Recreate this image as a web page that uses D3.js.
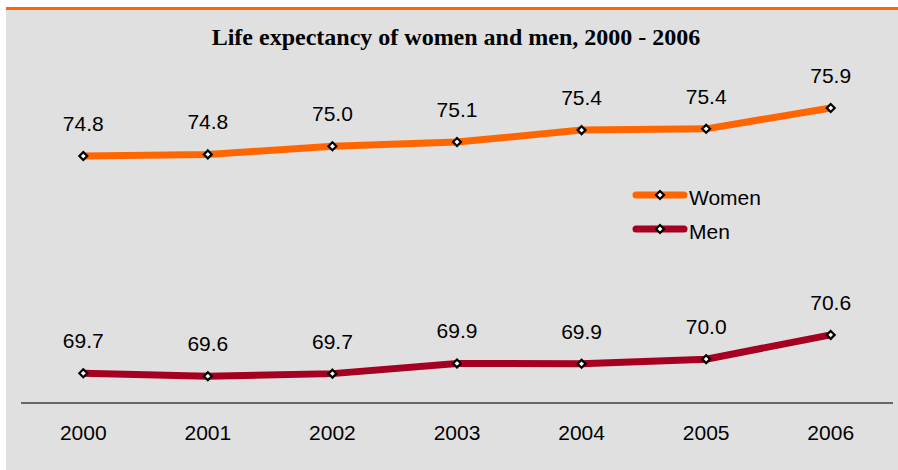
<!DOCTYPE html>
<html>
<head>
<meta charset="utf-8">
<script src="https://cdn.jsdelivr.net/npm/d3@7"></script>
<style>
  body { margin: 0; background: #fff; }
  svg { display: block; }
</style>
</head>
<body>
<svg id="chart" width="898" height="470"></svg>
<script>
const years = ["2000", "2001", "2002", "2003", "2004", "2005", "2006"];
const women = [74.80, 74.84, 75.03, 75.13, 75.41, 75.44, 75.93];
const men = [69.70, 69.63, 69.69, 69.93, 69.92, 70.03, 70.60];
const seriesNames = ["Women", "Men"];

const womenColor = '#ff6600';
const menColor = '#a50021';
const bgColor = '#e0e0e0';
const axisColor = '#666';

const svg = d3.select("#chart");

svg.append("rect")
  .attr("x", 6).attr("y", 10)
  .attr("width", 892).attr("height", 460)
  .attr("fill", bgColor);

svg.append("rect")
  .attr("x", 6).attr("y", 7)
  .attr("width", 892).attr("height", 3)
  .attr("fill", womenColor);

svg.append("text")
  .attr("x", 456)
  .attr("y", 45)
  .attr("text-anchor", "middle")
  .style("font-family", "'Liberation Serif', 'Times New Roman', serif")
  .style("font-weight", "bold")
  .style("font-size", "24px")
  .text("Life expectancy of women and men, 2000 - 2006");

const x = d3.scaleBand()
  .domain(years)
  .range([21, 893]);

const y = d3.scaleLinear()
  .domain([69, 76])
  .range([403, 105]);

// Eixo X
const xAxis = svg.append("g")
  .attr("transform", "translate(0,403)")
  .call(d3.axisBottom(x).tickSize(0).tickPadding(22));
xAxis.select(".domain").attr("stroke", axisColor).attr("stroke-width", 2).attr("d", "M21,0H893");
xAxis.selectAll("text")
  .style("font-family", "'Liberation Sans', Arial, sans-serif")
  .style("font-size", "21px")
  .attr("fill", "#000");

const line = d3.line()
  .x((d, i) => x(years[i]) + x.bandwidth() / 2)
  .y(d => y(d));

const diamond = d3.symbol().type(d3.symbolDiamond2).size(40);

[[women, womenColor], [men, menColor]].forEach(([vals, color]) => {
  svg.append("path")
    .datum(vals)
    .attr("fill", "none")
    .attr("stroke", color)
    .attr("stroke-width", 7)
    .attr("d", line);

  svg.selectAll(null)
    .data(vals)
    .enter()
    .append("path")
    .attr("d", diamond)
    .attr("transform", (d, i) => `translate(${x(years[i]) + x.bandwidth() / 2},${y(d)})`)
    .attr("fill", "#fff")
    .attr("stroke", "#000")
    .attr("stroke-width", 2.2);

  svg.selectAll(null)
    .data(vals)
    .enter()
    .append("text")
    .attr("x", (d, i) => x(years[i]) + x.bandwidth() / 2)
    .attr("y", d => y(d) - 25)
    .attr("text-anchor", "middle")
    .style("font-family", "'Liberation Sans', Arial, sans-serif")
    .style("font-size", "21px")
    .text(d => d.toFixed(1));
});

// legenda
const legend = svg.append("g");
[womenColor, menColor].forEach((color, i) => {
  const ly = 195 + i * 34;
  legend.append("line")
    .attr("x1", 636).attr("x2", 684)
    .attr("y1", ly).attr("y2", ly)
    .attr("stroke", color)
    .attr("stroke-width", 7)
    .attr("stroke-linecap", "round");
  legend.append("path")
    .attr("d", diamond)
    .attr("transform", `translate(660,${ly})`)
    .attr("fill", "#fff")
    .attr("stroke", "#000")
    .attr("stroke-width", 2.2);
  legend.append("text")
    .attr("x", 689)
    .attr("y", ly + 10)
    .style("font-family", "'Liberation Sans', Arial, sans-serif")
    .style("font-size", "21px")
    .text(seriesNames[i]);
});
</script>
</body>
</html>
